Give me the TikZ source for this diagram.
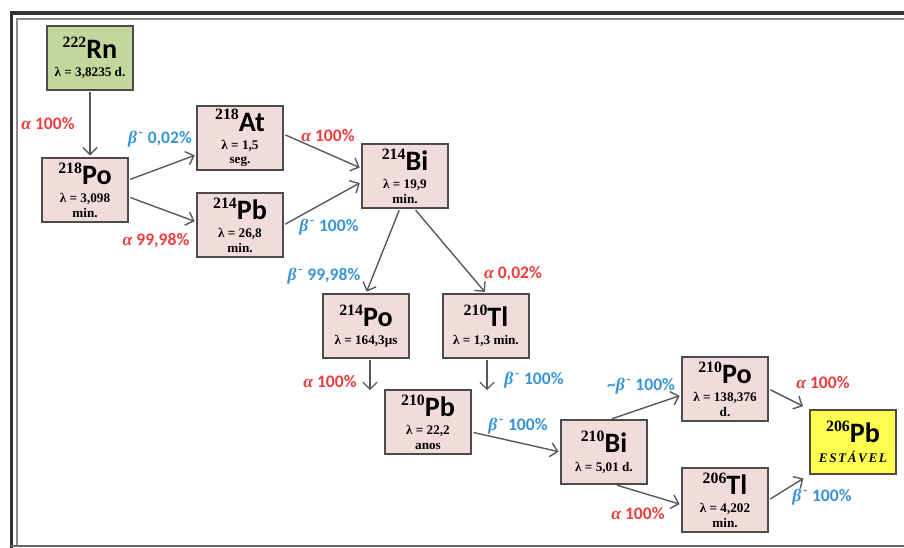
\documentclass[tikz,border=0pt]{standalone}
\usepackage{fontspec}
\setmainfont{Carlito}
\newfontfamily\timesfont{Liberation Serif}
\usetikzlibrary{arrows.meta,calc}

\definecolor{alphared}{RGB}{236,62,62}
\definecolor{betablue}{RGB}{56,148,214}
\definecolor{boxpink}{RGB}{242,220,219}
\definecolor{boxgreen}{RGB}{195,214,155}
\definecolor{boxyellow}{RGB}{255,255,80}

% isotope symbol with mass number
\newcommand{\nuc}[2]{{\raisebox{6.5pt}{\timesfont\bfseries\fontsize{9}{9}\selectfont #1}\normalfont\bfseries\fontsize{16}{16}\selectfont #2}}
\newcommand{\alp}{{\timesfont\bfseries\itshape α}}
\newcommand{\bet}{{\timesfont\bfseries\itshape β}\textsuperscript{\,-}}

\begin{document}
\begin{tikzpicture}[x=0.02cm, y=-0.02cm,
    nuclide/.style={draw=black!70, line width=0.8pt, fill=boxpink, minimum width=1.72cm,
      minimum height=1.28cm, inner sep=1pt, align=center,
      font=\timesfont\bfseries\fontsize{7.5}{8.3}\selectfont},
    decay/.style={-{Straight Barb[length=4pt,width=8pt]}, draw=black!65, line width=0.8pt,
      shorten >=1pt, shorten <=1pt},
    alab/.style={text=alphared, inner sep=0pt, font=\bfseries\fontsize{10}{10}\selectfont},
    blab/.style={text=betablue, inner sep=0pt, font=\bfseries\fontsize{10}{10}\selectfont}]
    \useasboundingbox (0,0) rectangle (904,548);

    % Frame
    \draw[line width=1.8pt, black!80] (11.5,560) -- (11.5,13) -- (920,13);
    \draw[line width=0.8pt, black!45] (17,546) -- (17,19) -- (920,19);
    \draw[line width=0.9pt, black!60] (11,546) -- (904,546);

    % Nuclides
    \node[nuclide, fill=boxgreen] (Rn) at (90,58) {\nuc{222}{Rn}\\[2pt] λ = 3,8235 d.};
    \node[nuclide] (Po218) at (85,190) {\nuc{218}{Po}\\[2pt] λ = 3,098\\ min.};
    \node[nuclide] (At218) at (240,138) {\nuc{218}{At}\\[2pt] λ = 1,5\\ seg.};
    \node[nuclide] (Pb214) at (240,225) {\nuc{214}{Pb}\\[2pt] λ = 26,8\\ min.};
    \node[nuclide] (Bi214) at (405,176) {\nuc{214}{Bi}\\[2pt] λ = 19,9\\ min.};
    \node[nuclide] (Po214) at (366,326) {\nuc{214}{Po}\\[2pt] λ = 164,3μs};
    \node[nuclide] (Tl210) at (486,326) {\nuc{210}{Tl}\\[2pt] λ = 1,3 min.};
    \node[nuclide] (Pb210) at (428,422) {\nuc{210}{Pb}\\[2pt] λ = 22,2\\ anos};
    \node[nuclide] (Bi210) at (604,452) {\nuc{210}{Bi}\\[2pt] λ = 5,01 d.};
    \node[nuclide] (Po210) at (725,389) {\nuc{210}{Po}\\[2pt] λ = 138,376\\ d.};
    \node[nuclide] (Tl206) at (725,500) {\nuc{206}{Tl}\\[2pt] λ = 4,202\\ min.};
    \node[nuclide, fill=boxyellow] (Pb206) at (853,442)
        {\nuc{206}{Pb}\\[3pt] {\itshape\addfontfeature{LetterSpace=12}ESTÁVEL}};

    % Decays
    \draw[decay] (Rn.south) -- (Rn.south |- Po218.north);
    \draw[decay] (Po218.13) -- (At218.201);
    \draw[decay] (Po218.351) -- (Pb214.176);
    \draw[decay] (At218.5) -- (Bi214.170);
    \draw[decay] (Pb214.east) -- (Bi214.188);
    \draw[decay] (Bi214.261) -- (Po214.north);
    \draw[decay] (Bi214.286) -- (Tl210.north);
    \coordinate (poend) at (370,392);
    \coordinate (tlend) at (487,392);
    \draw[decay] (Po214.south -| poend) -- (poend);
    \draw[decay] (Tl210.south -| tlend) -- (tlend);
    \draw[decay] (Pb210.347) -- (Bi210.west);
    \draw[decay] (Bi210.79) -- (Po210.188);
    \draw[decay] (Bi210.289) -- (Tl206.186);
    \draw[decay, shorten >=4pt] (Po210.east) -- (Pb206.north west);
    \draw[decay, shorten >=4pt] (Tl206.east) -- (Pb206.south west);

    % Decay labels
    \node[alab] (a1) at (48,124) {\alp\ 100\%};
    \node[blab] (b1) at (160,139) {\bet\ 0,02\%};
    \node[alab] (a2) at (156,241) {\alp\ 99,98\%};
    \node[alab] (a3) at (328,136) {\alp\ 100\%};
    \node[blab] (b2) at (329,227) {\bet\ 100\%};
    \node[blab] (b3) at (324,276) {\bet\ 99,98\%};
    \node[alab] (a4) at (513,274) {\alp\ 0,02\%};
    \node[alab] (a5) at (330,382) {\alp\ 100\%};
    \node[blab] (b4) at (534,380) {\bet\ 100\%};
    \node[blab] (b5) at (518,426) {\bet\ 100\%};
    \node[blab] (b6) at (641,386) {\textasciitilde\bet\ 100\%};
    \node[alab] (a6) at (638,514) {\alp\ 100\%};
    \node[alab] (a7) at (823,383) {\alp\ 100\%};
    \node[blab] (b7) at (822,497) {\bet\ 100\%};
\end{tikzpicture}
\end{document}
